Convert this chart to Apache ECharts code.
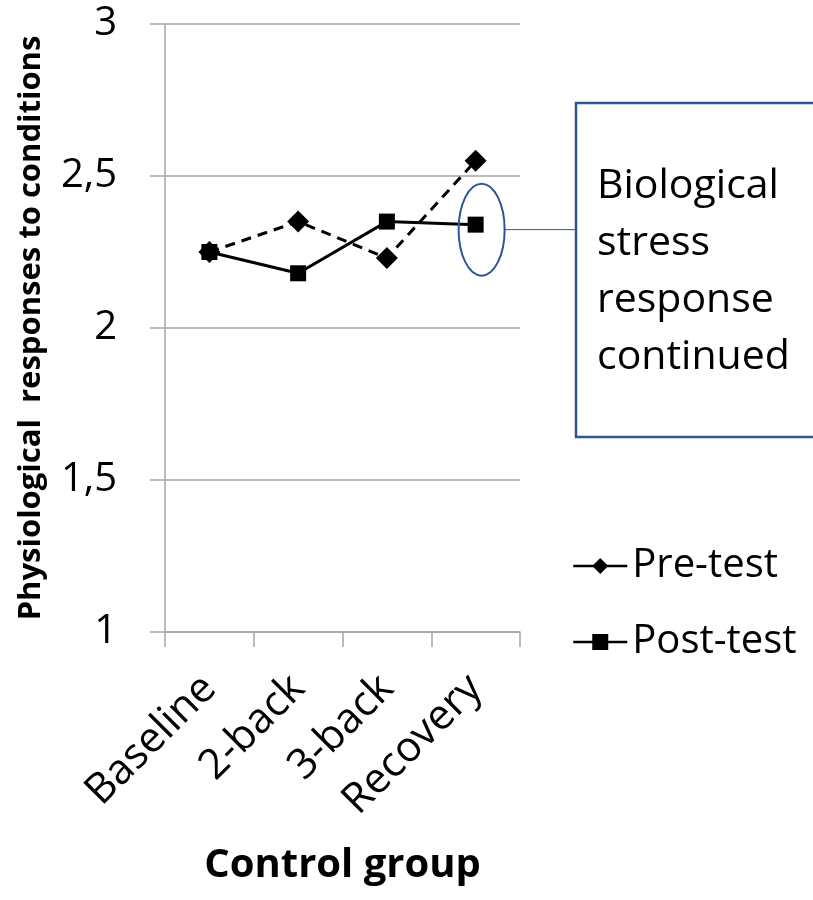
<!DOCTYPE html>
<html>
<head>
<meta charset="utf-8">
<script src="https://cdn.jsdelivr.net/npm/echarts@6/dist/echarts.min.js"></script>
<style>
  html, body { margin: 0; padding: 0; background: #fff; }
  #main { width: 813px; height: 900px; }
</style>
</head>
<body>
<div id="main"></div>
<script>
// data
var categories = ['Baseline', '2-back', '3-back', 'Recovery'];
var preTest = [2.25, 2.35, 2.23, 2.55];
var postTest = [2.25, 2.18, 2.35, 2.34];
var yTicks = [1, 1.5, 2, 2.5, 3];
var noteLines = ['Biological', 'stress', 'response', 'continued'];

var FONT = 'Open Sans';
var grey = '#a6a6a6';
var blue = '#2f5597';

var chart = echarts.init(document.getElementById('main'));

chart.setOption({
    animation: false,
    textStyle: { fontFamily: FONT, color: '#000' },
    grid: { left: 165, right: 293, top: 24, bottom: 268 },
    legend: {
        orient: 'vertical',
        left: 567, top: 541,
        itemWidth: 54, itemHeight: 20, itemGap: 36,
        lineStyle: { type: 'solid', width: 2.5 },
        textStyle: { fontFamily: FONT, fontSize: 40, color: '#000' },
        data: ['Pre-test', 'Post-test']
    },
    xAxis: {
        type: 'category',
        data: categories,
        name: 'Control group',
        nameLocation: 'middle',
        nameGap: 214,
        nameTextStyle: { fontFamily: FONT, fontSize: 40, fontWeight: 'bold', color: '#000' },
        axisLine: { lineStyle: { color: grey, width: 1.5 } },
        axisTick: { show: true, length: 15, lineStyle: { color: grey, width: 1.5 } },
        axisLabel: { rotate: 45, fontSize: 42, color: '#000', margin: 50 }
    },
    yAxis: {
        type: 'value',
        min: yTicks[0], max: yTicks[yTicks.length - 1], interval: 0.5,
        name: 'Physiological  responses to conditions',
        nameLocation: 'middle',
        nameGap: 118,
        nameTextStyle: { fontFamily: FONT, fontSize: 31, fontWeight: 'bold', color: '#000' },
        axisLine: { show: true, lineStyle: { color: grey, width: 1.5 } },
        axisTick: { show: true, length: 15, lineStyle: { color: grey, width: 1.5 } },
        splitLine: { lineStyle: { color: grey, width: 1.5 } },
        axisLabel: {
            fontSize: 40, color: '#000', margin: 48,
            formatter: function (v) { return String(v).replace('.', ','); }
        }
    },
    series: [
        {
            name: 'Pre-test', type: 'line', data: preTest,
            symbol: 'diamond', symbolSize: 22,
            lineStyle: { color: '#000', width: 3, type: [10, 7] },
            itemStyle: { color: '#000' }
        },
        {
            name: 'Post-test', type: 'line', data: postTest,
            symbol: 'rect', symbolSize: 16,
            lineStyle: { color: '#000', width: 3 },
            itemStyle: { color: '#000' }
        }
    ]
});

// annotation: ellipse around Recovery post-test point, connector and callout box
var p = chart.convertToPixel({ gridIndex: 0 }, [categories.length - 1, postTest[3]]);
var cx = p[0] + 6, cy = p[1] + 5;
chart.setOption({
    graphic: [
        { type: 'ellipse', shape: { cx: cx, cy: cy, rx: 23, ry: 46 },
          style: { fill: 'none', stroke: blue, lineWidth: 2 }, z: 10 },
        { type: 'line', shape: { x1: cx + 23, y1: cy, x2: 576, y2: cy },
          style: { stroke: blue, lineWidth: 1 }, z: 10 },
        { type: 'rect', shape: { x: 576, y: 103, width: 300, height: 334 },
          style: { fill: '#fff', stroke: blue, lineWidth: 2.5 }, z: 10 },
        { type: 'text', x: 597, y: 158, z: 11,
          style: { text: noteLines.join('\n'), fontFamily: FONT, fontSize: 41,
                   lineHeight: 57, fill: '#000' } }
    ]
});
</script>
</body>
</html>
